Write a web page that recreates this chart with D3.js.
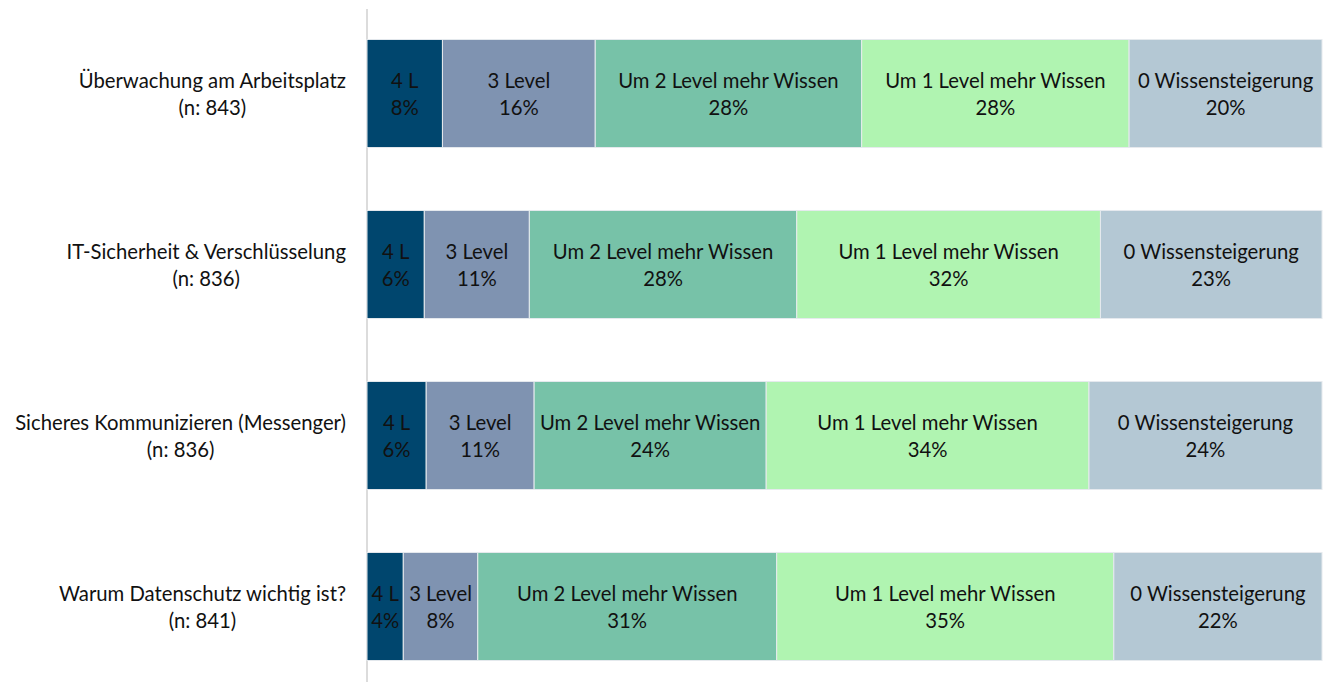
<!DOCTYPE html>
<html>
<head>
<meta charset="utf-8">
<script src="https://cdn.jsdelivr.net/npm/d3@7"></script>
<style>
  html, body { margin: 0; padding: 0; background: #fff; }
  svg { display: block; font-family: "Lato", "Open Sans", sans-serif; }
</style>
</head>
<body>
<svg id="chart" width="1324" height="682"></svg>
<script>
const categories = [
  "Überwachung am Arbeitsplatz",
  "IT-Sicherheit & Verschlüsselung",
  "Sicheres Kommunizieren (Messenger)",
  "Warum Datenschutz wichtig ist?"
];
const sampleSizes = [843, 836, 836, 841];
const seriesNames = ["4 L", "3 Level", "Um 2 Level mehr Wissen", "Um 1 Level mehr Wissen", "0 Wissensteigerung"];
const level4 = [7.9, 6.0, 6.2, 3.8];
const level3 = [16.0, 11.0, 11.3, 7.8];
const level2 = [27.9, 28.0, 24.3, 31.3];
const level1 = [28.0, 31.8, 33.8, 35.3];
const level0 = [20.2, 23.2, 24.4, 21.8];
const seriesColors = ["#00466e", "#7f93b1", "#77c2a8", "#b0f4b1", "#b4c8d4"];

const seriesValues = [level4, level3, level2, level1, level0];
const rows = categories.map((c, i) => {
  const r = { category: c, n: sampleSizes[i] };
  seriesNames.forEach((s, k) => r[s] = seriesValues[k][i]);
  return r;
});

const FS = 20.3;
const svg = d3.select("#chart");
const x = d3.scaleLinear().domain([0, 100]).range([367, 1322]);
const y = d3.scaleBand().domain(categories).range([10.4, 689.6]).paddingInner(0.368).paddingOuter(0.17);

const stack = d3.stack().keys(seriesNames)(rows);
const color = d3.scaleOrdinal().domain(seriesNames).range(seriesColors);

// axis line
svg.append("line")
  .attr("x1", 367).attr("x2", 367).attr("y1", 9).attr("y2", 682)
  .attr("stroke", "#dcdcdc").attr("stroke-width", 2);

const groups = svg.append("g").selectAll("g").data(stack).join("g")
  .attr("fill", d => color(d.key));

groups.selectAll("rect").data(d => d.map(v => Object.assign(v, { key: d.key }))).join("rect")
  .attr("x", d => x(d[0]))
  .attr("y", d => y(d.data.category))
  .attr("width", d => x(d[1]) - x(d[0]))
  .attr("height", y.bandwidth())
  .attr("stroke", "#e6eaee")
  .attr("stroke-width", 1);

const labels = svg.append("g").selectAll("g").data(stack).join("g");
labels.selectAll("text").data(d => d).join("text")
  .attr("x", d => (x(d[0]) + x(d[1])) / 2)
  .attr("y", d => y(d.data.category) + y.bandwidth() / 2)
  .attr("text-anchor", "middle")
  .attr("font-size", FS)
  .attr("fill", "#111")
  .each(function(d) {
    const t = d3.select(this);
    const cx = (x(d[0]) + x(d[1])) / 2;
    t.append("tspan").attr("x", cx).attr("dy", -5.5).text(d.key);
    t.append("tspan").attr("x", cx).attr("dy", 27).text(Math.round(d[1] - d[0]) + "%");
  });

// category labels
const cat = svg.append("g").selectAll("g").data(rows).join("g");
cat.each(function(d) {
  const g = d3.select(this);
  const cy = y(d.category) + y.bandwidth() / 2;
  const t1 = g.append("text").attr("x", 346).attr("y", cy - 5.5)
    .attr("text-anchor", "end").attr("font-size", FS).attr("fill", "#111").text(d.category);
  const w = t1.node().getComputedTextLength();
  g.append("text").attr("x", 346 - w / 2).attr("y", cy + 21.5)
    .attr("text-anchor", "middle").attr("font-size", FS).attr("fill", "#111").text("(n: " + d.n + ")");
});
</script>
</body>
</html>
